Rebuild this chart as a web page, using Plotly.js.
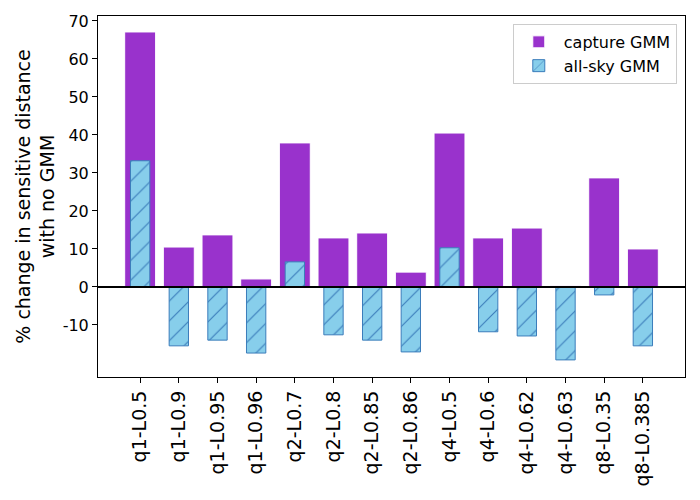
<!DOCTYPE html>
<html>
<head>
<meta charset="utf-8">
<script src="https://cdn.plot.ly/plotly-3.0.1.min.js"></script>
<style>html,body{margin:0;padding:0;background:#fff;}#chart{width:700px;height:500px;}</style>
</head>
<body>
<div id="chart"></div>
<script>
const categories = ["q1-L0.5","q1-L0.9","q1-L0.95","q1-L0.96","q2-L0.7","q2-L0.8","q2-L0.85","q2-L0.86","q4-L0.5","q4-L0.6","q4-L0.62","q4-L0.63","q8-L0.35","q8-L0.385"];
const captureGMM = [67.1, 10.5, 13.7, 2.1, 37.9, 12.9, 14.2, 3.9, 40.5, 12.9, 15.5, 0.3, 28.7, 10.0];
const allSkyGMM = [33.2, -15.5, -14.0, -17.4, 6.6, -12.6, -14.0, -17.1, 10.3, -11.8, -12.9, -19.2, -2.1, -15.5];
const yTickVals = [-10, 0, 10, 20, 30, 40, 50, 60, 70];
const yTickText = ["-10", "0", "10", "20", "30", "40", "50", "60", "70"];

const idx = categories.map((c, i) => i);

const traces = [
  {
    type: 'bar', name: 'capture GMM', x: idx, y: captureGMM, width: 0.8,
    marker: {color: '#9932CC', line: {color: '#ffffff', width: 1}}
  },
  {
    type: 'bar', name: 'all-sky GMM', x: idx, y: allSkyGMM, width: 0.5,
    marker: {color: '#87CEEB', line: {color: '#3b7dbb', width: 1},
      pattern: {shape: '/', fgcolor: '#3b7dbb', bgcolor: '#87CEEB', size: 14, solidity: 0.08}}
  }
];

const layout = {
  width: 700, height: 500,
  margin: {l: 98, r: 15, t: 16, b: 123},
  paper_bgcolor: '#fff', plot_bgcolor: '#fff',
  barmode: 'overlay',
  font: {family: 'DejaVu Sans', color: '#000'},
  showlegend: true,
  legend: {x: 0.986, y: 0.978, xanchor: 'right', yanchor: 'top',
    bgcolor: 'rgba(255,255,255,0.8)', bordercolor: '#cccccc', borderwidth: 1,
    font: {size: 16, family: 'DejaVu Sans'}, traceorder: 'normal', itemwidth: 40},
  xaxis: {
    range: [-1.09, 14.09], tickmode: 'array', tickvals: idx, ticktext: categories,
    tickangle: -90, tickfont: {size: 19}, ticks: 'outside', ticklen: 5, tickcolor: '#000',
    showline: true, linecolor: '#000', linewidth: 1, mirror: true,
    showgrid: false, zeroline: false
  },
  yaxis: {
    range: [-23.7, 71.3], tickmode: 'array', tickvals: yTickVals, ticktext: yTickText,
    tickfont: {size: 16}, ticks: 'outside', ticklen: 5, tickcolor: '#000',
    showline: true, linecolor: '#000', linewidth: 1, mirror: true,
    showgrid: false, zeroline: false,
    title: {text: '% change in sensitive distance<br>with no GMM', font: {size: 19}, standoff: 2}
  },
  shapes: [
    {type: 'line', xref: 'paper', x0: 0, x1: 1, yref: 'y', y0: 0, y1: 0,
     line: {color: '#000', width: 2}, layer: 'above'}
  ]
};

Plotly.newPlot('chart', traces, layout, {displayModeBar: false, staticPlot: true});
</script>
</body>
</html>
